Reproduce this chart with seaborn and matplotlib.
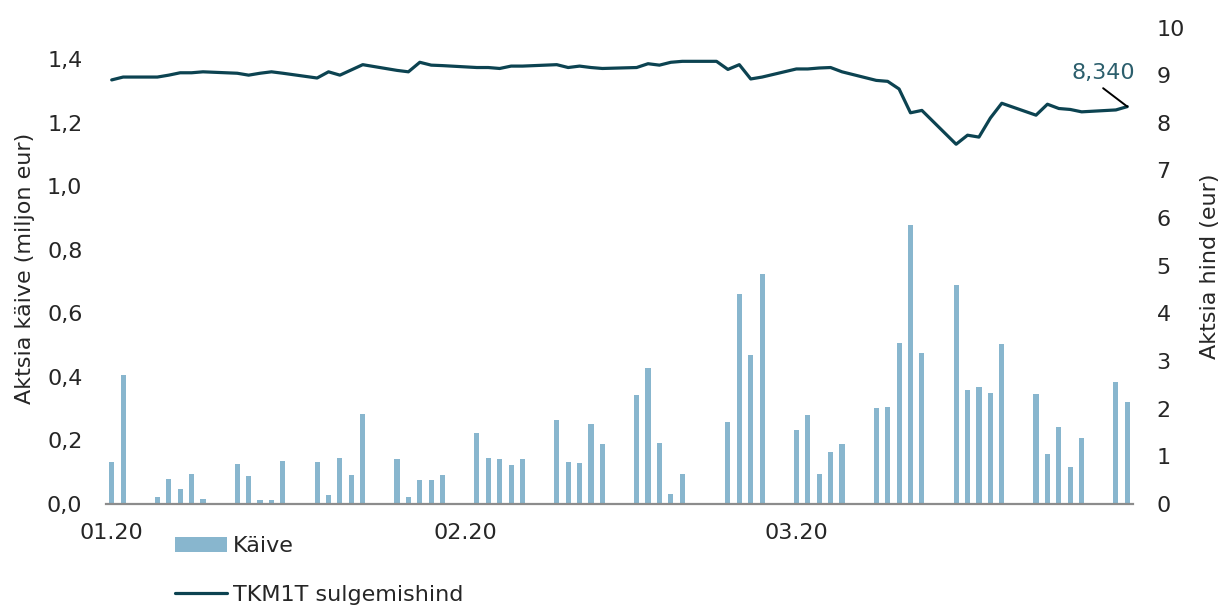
import matplotlib
matplotlib.use("Agg")
import matplotlib.pyplot as plt
import matplotlib.dates as mdates
from matplotlib.patches import Patch
from matplotlib.lines import Line2D
from matplotlib.ticker import FuncFormatter
import pandas as pd
import seaborn as sns

# Trading days Jan-Mar 2020 (24.02 is a holiday: no turnover, price carried over)
dates = pd.bdate_range("2020-01-02", "2020-03-31")

# Daily turnover (million EUR)
kaive_jan = [0.133, 0.405, 0.021, 0.078, 0.046, 0.093, 0.017, 0.126, 0.089, 0.014, 0.014,
             0.136, 0.132, 0.028, 0.144, 0.090, 0.283, 0.142, 0.021, 0.077, 0.075, 0.090]
kaive_feb = [0.222, 0.145, 0.142, 0.124, 0.143, 0.265, 0.133, 0.128, 0.251, 0.190,
             0.343, 0.428, 0.193, 0.033, 0.093, 0.0, 0.258, 0.660, 0.469, 0.723]
kaive_mar = [0.232, 0.279, 0.094, 0.164, 0.190, 0.301, 0.305, 0.506, 0.878, 0.474, 0.688,
             0.359, 0.367, 0.349, 0.505, 0.345, 0.157, 0.241, 0.115, 0.207, 0.385, 0.321]

# Closing price TKM1T (EUR)
hind_jan = [8.90, 8.96, 8.96, 9.00, 9.05, 9.05, 9.07, 9.04, 9.00, 9.04, 9.07,
            9.04, 8.94, 9.07, 9.00, 9.11, 9.22, 9.10, 9.07, 9.27, 9.21, 9.20]
hind_feb = [9.16, 9.16, 9.14, 9.19, 9.19, 9.22, 9.16, 9.19, 9.16, 9.14,
            9.16, 9.24, 9.21, 9.27, 9.29, 9.29, 9.12, 9.22, 8.92, 8.96]
hind_mar = [9.13, 9.13, 9.15, 9.16, 9.07, 8.89, 8.87, 8.71, 8.21, 8.26, 7.55,
            7.74, 7.70, 8.10, 8.41, 8.16, 8.39, 8.30, 8.28, 8.23, 8.27, 8.34]

tick_dates = ["2020-01-02", "2020-02-02", "2020-03-02"]
tick_labels = ["01.20", "02.20", "03.20"]
last_label = "8,340"

bar_color = "#88b6ce"
line_color = "#0c4351"
text_color = "#2b5e6c"

df = pd.DataFrame({
    "x": mdates.date2num(dates),
    "kaive": kaive_jan + kaive_feb + kaive_mar,
    "hind": hind_jan + hind_feb + hind_mar,
})

sns.set_style("white")
plt.rcParams["font.family"] = ["DejaVu Sans"]
plt.rcParams["font.size"] = 16

fig = plt.figure(figsize=(12.24, 6.10), dpi=100)
ax = fig.add_axes([106 / 1224, 106 / 610, 1027 / 1224, 476.5 / 610])

sns.barplot(data=df, x="x", y="kaive", native_scale=True, width=0.45,
            color=bar_color, saturation=1, linewidth=0, ax=ax)
ax2 = ax.twinx()
sns.lineplot(data=df, x="x", y="hind", color=line_color, lw=2.3, ax=ax2)

x0 = df["x"].iloc[0] - 0.5
x1 = df["x"].iloc[-1] + 0.5
ax.set_xlim(x0, x1)
ax.set_ylim(0, 1.5)
ax2.set_ylim(0, 10)

ax.set_xticks(mdates.date2num(pd.to_datetime(tick_dates)))
ax.set_xticklabels(tick_labels)
ax.set_yticks([0, 0.2, 0.4, 0.6, 0.8, 1.0, 1.2, 1.4])
ax.yaxis.set_major_formatter(FuncFormatter(lambda v, p: f"{v:.1f}".replace(".", ",")))
ax2.set_yticks(range(0, 11))

ax.set_xlabel("")
ax.set_ylabel("Aktsia käive (miljon eur)", fontsize=16)
ax2.set_ylabel("Aktsia hind (eur)", fontsize=16)
ax2.set_xlabel("")
ax.yaxis.set_label_coords(-0.069, 0.495)
ax2.yaxis.set_label_coords(1.065, 0.5)

ax.tick_params(axis="x", length=0, pad=13.5, labelsize=16)
ax.tick_params(axis="y", length=0, pad=17, labelsize=16)
ax2.tick_params(axis="y", length=0, pad=17, labelsize=16)

for a in (ax, ax2):
    for s in a.spines.values():
        s.set_visible(False)
ax.spines["bottom"].set_visible(True)
ax.spines["bottom"].set_color("#8c8c8c")
ax.spines["bottom"].set_linewidth(1.6)

# label on the last close
ax2.annotate(last_label, xy=(df["x"].iloc[-1], df["hind"].iloc[-1]),
             xytext=(-17.5, 19.7), textcoords="offset points",
             ha="center", va="baseline", color=text_color, fontsize=16,
             arrowprops=dict(arrowstyle="-", color="black", lw=1.4,
                             shrinkA=2, shrinkB=0, relpos=(0.4, 0)))

handles = [Patch(facecolor=bar_color, edgecolor="none"),
           Line2D([], [], color=line_color, lw=2.3)]
fig.legend(handles, ["Käive", "TKM1T sulgemishind"], loc="upper left",
           bbox_to_anchor=(175 / 1224, 1 - 536 / 610), frameon=False,
           borderpad=0, borderaxespad=0, handlelength=2.35, handleheight=0.65,
           handletextpad=0.25, labelspacing=1.3, fontsize=16)

fig.savefig("out.png", dpi=100)
